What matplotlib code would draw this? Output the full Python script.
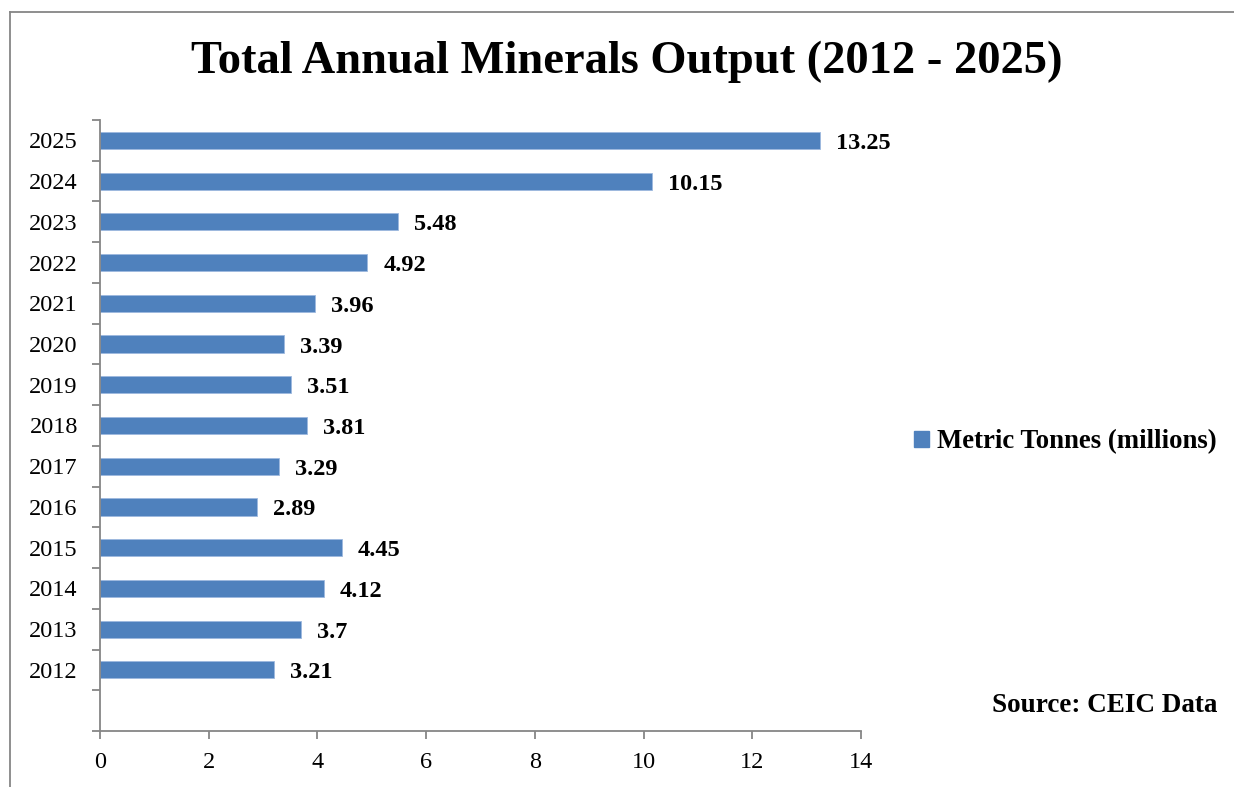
import matplotlib
matplotlib.use("Agg")
import matplotlib.pyplot as plt
from matplotlib.patches import Patch
from matplotlib.lines import Line2D
import numpy as np

years = ["2012", "2013", "2014", "2015", "2016", "2017", "2018", "2019",
         "2020", "2021", "2022", "2023", "2024", "2025"]
values = [3.21, 3.7, 4.12, 4.45, 2.89, 3.29, 3.81, 3.51, 3.39, 3.96, 4.92, 5.48, 10.15, 13.25]
x_ticks = [0, 2, 4, 6, 8, 10, 12, 14]
title = "Total Annual Minerals Output (2012 - 2025)"
series_name = "Metric Tonnes (millions)"
source = "Source: CEIC Data"

plt.rcParams['font.family'] = ['Liberation Serif', 'DejaVu Serif']
bar_color = "#4F81BD"
axis_color = "#868686"

W, H = 1234, 787
fig = plt.figure(figsize=(W / 100, H / 100), dpi=100)
ax = fig.add_axes([100 / W, 1 - 731 / H, 761 / W, 611 / H])

pos = np.arange(len(years))
ax.barh(pos, values, height=0.42, color=bar_color, edgecolor="#9DB9DF", linewidth=0.6)

for p, v in zip(pos, values):
    ax.annotate(f"{v:g}", xy=(v, p), xytext=(16, -3), textcoords="offset pixels",
                ha="left", va="center", fontsize=17.5, fontweight="bold", color="black")

ax.set_xlim(0, 14)
ax.set_ylim(-1.5, len(years) - 0.5)
ax.set_xticks(x_ticks)
ax.set_xticklabels([str(t) for t in x_ticks], fontsize=17.5)
ax.set_yticks(np.arange(-1.5, len(years), 1.0))
ax.set_yticklabels([])
ax.set_yticks(pos, minor=True)
ax.set_yticklabels(years, minor=True, fontsize=17.5)
ax.tick_params(axis="y", which="major", length=6, width=1.3, color=axis_color, direction="out")
ax.tick_params(axis="y", which="minor", length=0, pad=16)
ax.tick_params(axis="x", which="major", length=6, width=1.3, color=axis_color, direction="out", pad=9)

for s in ["top", "right"]:
    ax.spines[s].set_visible(False)
for s in ["left", "bottom"]:
    ax.spines[s].set_color(axis_color)
    ax.spines[s].set_linewidth(1.3)

fig.text(627 / W, 1 - 62 / H, title, ha="center", va="center", fontsize=33.5, fontweight="bold")

handle = Patch(facecolor=bar_color, edgecolor=bar_color)
fig.legend([handle], [series_name], loc="center left", bbox_to_anchor=(914 / W, 1 - 442 / H),
           frameon=False, prop={"size": 19.3, "weight": "bold"},
           handlelength=0.55, handleheight=0.55, handletextpad=0.3, borderaxespad=0,
           borderpad=0)

fig.text(1217 / W, 1 - 706 / H, source, ha="right", va="center", fontsize=19.5, fontweight="bold")

# outer frame
fig.add_artist(Line2D([10 / W, 10 / W], [0, 1 - 12 / H], transform=fig.transFigure,
                      color=axis_color, linewidth=1.3))
fig.add_artist(Line2D([10 / W, 1], [1 - 12 / H, 1 - 12 / H], transform=fig.transFigure,
                      color=axis_color, linewidth=1.3))

fig.savefig("out.png", dpi=100)
